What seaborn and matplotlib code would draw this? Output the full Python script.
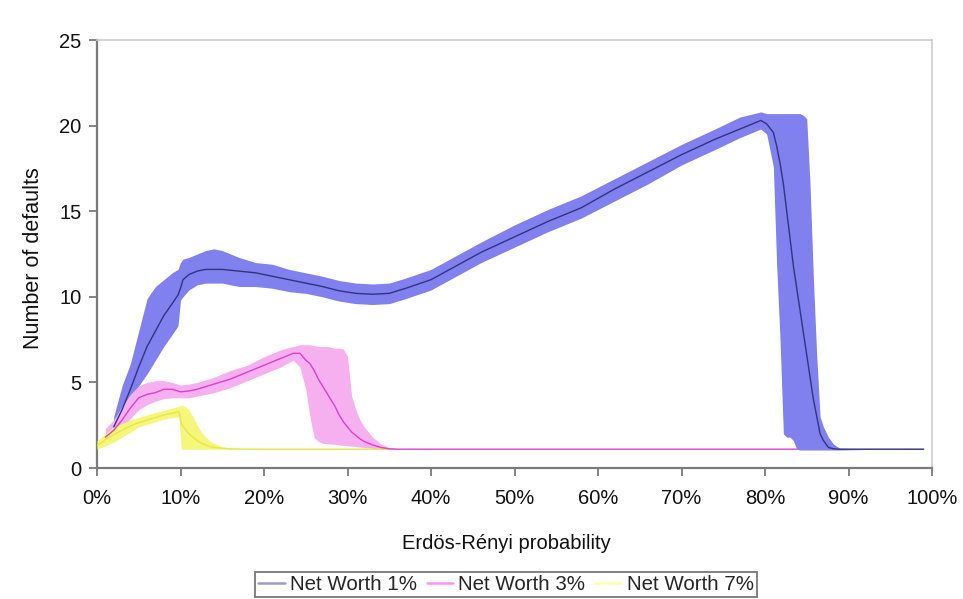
import numpy as np
import pandas as pd
import matplotlib
matplotlib.use("Agg")
import matplotlib.pyplot as plt
import seaborn as sns
from matplotlib.ticker import PercentFormatter, MultipleLocator
from matplotlib.lines import Line2D

# Net Worth 1%
p_nw1 = [0.02, 0.03, 0.04, 0.05, 0.06, 0.07, 0.08, 0.09, 0.097, 0.10, 0.103, 0.11, 0.12, 0.13,
         0.14, 0.15, 0.17, 0.19, 0.21, 0.23, 0.25, 0.27, 0.29, 0.31, 0.33, 0.35, 0.37, 0.40,
         0.43, 0.46, 0.50, 0.54, 0.58, 0.62, 0.66, 0.70, 0.74, 0.77, 0.795, 0.802, 0.81, 0.814,
         0.818, 0.822, 0.826, 0.83, 0.834, 0.838, 0.842, 0.846, 0.85, 0.854, 0.858, 0.862,
         0.866, 0.87, 0.876, 0.882, 0.888, 0.89, 0.92, 0.95, 0.99]
mean_nw1 = [2.4, 3.4, 4.6, 5.9, 7.1, 8.0, 8.9, 9.6, 10.1, 10.5, 11.0, 11.3, 11.5, 11.6,
            11.6, 11.6, 11.5, 11.4, 11.2, 11.0, 10.8, 10.6, 10.35, 10.2, 10.15, 10.2, 10.5, 11.0,
            11.8, 12.6, 13.5, 14.4, 15.2, 16.3, 17.3, 18.3, 19.2, 19.8, 20.3, 20.1, 19.6, 18.8,
            17.8, 16.6, 15.0, 13.4, 11.8, 10.5, 9.2, 7.9, 6.6, 5.3, 4.0, 3.0,
            2.0, 1.6, 1.2, 1.12, 1.1, 1.1, 1.1, 1.1, 1.1]
hi_nw1 = [3.0, 4.8, 6.1, 8.0, 9.9, 10.6, 11.0, 11.4, 11.6, 12.0, 12.2, 12.3, 12.5, 12.7,
          12.8, 12.7, 12.3, 12.0, 11.9, 11.6, 11.4, 11.2, 10.95, 10.8, 10.75, 10.8, 11.1, 11.6,
          12.4, 13.2, 14.2, 15.1, 15.9, 16.9, 17.9, 18.9, 19.8, 20.5, 20.8, 20.7, 20.7, 20.7,
          20.7, 20.7, 20.7, 20.7, 20.7, 20.7, 20.7, 20.6, 20.4, 16.5, 11.0, 6.5,
          3.0, 2.4, 1.8, 1.4, 1.2, 1.15, 1.12, 1.12, 1.12]
lo_nw1 = [2.2, 2.8, 3.6, 4.8, 5.5, 6.3, 7.1, 7.8, 8.3, 9.8, 10.0, 10.4, 10.7, 10.8,
          10.8, 10.8, 10.6, 10.6, 10.5, 10.3, 10.2, 10.0, 9.75, 9.6, 9.55, 9.6, 9.9, 10.4,
          11.2, 12.0, 12.9, 13.8, 14.6, 15.6, 16.6, 17.7, 18.6, 19.3, 19.8, 19.5, 17.6, 11.8,
          7.5, 2.0, 1.8, 1.8, 1.6, 1.1, 1.05, 1.05, 1.05, 1.05, 1.05, 1.05,
          1.05, 1.05, 1.05, 1.05, 1.05, 1.05, 1.08, 1.08, 1.08]

# Net Worth 3%
p_nw3 = [0.01, 0.02, 0.03, 0.04, 0.05, 0.06, 0.07, 0.08, 0.09, 0.10, 0.11, 0.12, 0.14, 0.16,
         0.18, 0.20, 0.22, 0.235, 0.243, 0.25, 0.255, 0.26, 0.265, 0.27, 0.275, 0.28, 0.285,
         0.29, 0.295, 0.30, 0.305, 0.31, 0.315, 0.32, 0.33, 0.34, 0.35, 0.36, 0.40, 0.50,
         0.60, 0.70, 0.80, 0.838]
mean_nw3 = [1.8, 2.2, 2.8, 3.5, 4.1, 4.3, 4.4, 4.6, 4.6, 4.45, 4.5, 4.6, 4.9, 5.2,
            5.6, 6.0, 6.4, 6.7, 6.7, 6.3, 6.1, 5.7, 5.2, 4.8, 4.4, 4.0, 3.6,
            3.1, 2.7, 2.4, 2.1, 1.9, 1.7, 1.55, 1.35, 1.2, 1.12, 1.1, 1.1, 1.1,
            1.1, 1.1, 1.1, 1.1]
hi_nw3 = [2.3, 2.8, 3.6, 4.3, 4.8, 5.0, 5.1, 5.1, 5.0, 4.85, 4.9, 5.0, 5.3, 5.7,
          6.0, 6.5, 6.9, 7.1, 7.2, 7.2, 7.2, 7.15, 7.1, 7.1, 7.1, 7.05, 7.0,
          7.0, 6.95, 6.5, 4.2, 3.4, 2.8, 2.4, 1.8, 1.4, 1.2, 1.12, 1.1, 1.1,
          1.1, 1.1, 1.1, 1.1]
lo_nw3 = [1.4, 1.8, 2.2, 2.9, 3.4, 3.7, 3.9, 4.05, 4.1, 4.1, 4.1, 4.2, 4.4, 4.7,
          5.1, 5.5, 5.9, 6.3, 5.9, 4.6, 3.0, 1.8, 1.55, 1.45, 1.42, 1.4, 1.38,
          1.35, 1.32, 1.3, 1.28, 1.25, 1.22, 1.2, 1.15, 1.1, 1.1, 1.1, 1.1, 1.1,
          1.1, 1.1, 1.1, 1.1]

# Net Worth 7%
p_nw7 = [0.0, 0.01, 0.02, 0.03, 0.04, 0.05, 0.06, 0.07, 0.08, 0.09, 0.098, 0.101, 0.105,
         0.11, 0.115, 0.12, 0.125, 0.13, 0.135, 0.14, 0.15, 0.16, 0.18, 0.20, 0.25, 0.30, 0.35]
mean_nw7 = [1.3, 1.65, 1.95, 2.2, 2.45, 2.65, 2.8, 2.95, 3.1, 3.2, 3.3, 2.6, 2.3,
            2.0, 1.8, 1.6, 1.45, 1.35, 1.25, 1.2, 1.15, 1.12, 1.1, 1.1, 1.1, 1.1, 1.1]
hi_nw7 = [1.6, 2.0, 2.4, 2.6, 2.8, 2.95, 3.1, 3.25, 3.35, 3.5, 3.6, 3.65, 3.6,
          3.4, 3.0, 2.5, 2.1, 1.8, 1.6, 1.45, 1.25, 1.15, 1.12, 1.1, 1.1, 1.1, 1.1]
lo_nw7 = [1.1, 1.3, 1.5, 1.8, 2.1, 2.4, 2.55, 2.7, 2.85, 2.95, 3.0, 1.1, 1.1,
          1.1, 1.1, 1.1, 1.1, 1.1, 1.1, 1.1, 1.1, 1.1, 1.1, 1.1, 1.1, 1.1, 1.1]

labels = ["Net Worth 1%", "Net Worth 3%", "Net Worth 7%"]
band_colors = ["#8080ee", "#f6b0f0", "#f6f67a"]
line_colors = ["#33337f", "#dd40cc", "#e6e64a"]
legend_colors = ["#9c9cd0", "#ff90ff", "#ffffa8"]

series = [
    (labels[0], p_nw1, mean_nw1, lo_nw1, hi_nw1),
    (labels[1], p_nw3, mean_nw3, lo_nw3, hi_nw3),
    (labels[2], p_nw7, mean_nw7, lo_nw7, hi_nw7),
]
df = pd.concat([pd.DataFrame({"p": p, "mean": m, "lo": lo, "hi": hi, "series": name})
                for name, p, m, lo, hi in series], ignore_index=True)

sns.set_style("white")
plt.rcParams["font.family"] = ["Liberation Sans", "DejaVu Sans"]

fig = plt.figure(figsize=(9.63, 5.99), dpi=100)
ax = fig.add_axes([97 / 963, 1 - 468 / 599, (932 - 97) / 963, (468 - 40) / 599])

# bands: blue at bottom, yellow on top
for i, name in enumerate(labels):
    d = df[df["series"] == name]
    ax.fill_between(d["p"], d["lo"], d["hi"], color=band_colors[i], lw=0, zorder=1 + i)

# mean lines: yellow first, blue last
for i in [2, 1, 0]:
    d = df[df["series"] == labels[i]]
    sns.lineplot(data=d, x="p", y="mean", color=line_colors[i], lw=1.0, ax=ax,
                 legend=False, zorder=5 + (2 - i))

ax.set_xlim(0, 1)
ax.set_ylim(0, 25)
ax.xaxis.set_major_locator(MultipleLocator(0.1))
ax.yaxis.set_major_locator(MultipleLocator(5))
ax.xaxis.set_major_formatter(PercentFormatter(1.0, decimals=0))

for s in ["left", "bottom"]:
    ax.spines[s].set_color("#7a7a7a")
    ax.spines[s].set_linewidth(1.6)
for s in ["top", "right"]:
    ax.spines[s].set_color("#cccccc")
    ax.spines[s].set_linewidth(1.2)

ax.tick_params(axis="both", which="major", direction="out", length=6, width=1.3,
               color="#7a7a7a", labelsize=14.5, labelcolor="#111111",
               left=True, bottom=True)
ax.tick_params(axis="x", pad=9)
ax.tick_params(axis="y", pad=5)

ax.set_xlabel("Erdös-Rényi probability", fontsize=14.5, color="#111111")
ax.xaxis.set_label_coords((506 - 97) / 835, -66 / 428)
ax.set_ylabel("Number of defaults", fontsize=15.5, color="#111111")
ax.yaxis.set_label_coords(-53 / 835, 0.49)

handles = [Line2D([0], [0], color=c, lw=1.8) for c in legend_colors]
leg = fig.legend(handles, labels, loc="lower center", ncol=3,
                 bbox_to_anchor=(506 / 963, 0.003),
                 fontsize=14.8, frameon=True, fancybox=False, framealpha=1,
                 edgecolor="#777777", handlelength=1.3, handletextpad=0.25,
                 columnspacing=0.45, borderpad=0.15, borderaxespad=0)
leg.get_frame().set_linewidth(1.3)

fig.savefig("out.png", dpi=100)
